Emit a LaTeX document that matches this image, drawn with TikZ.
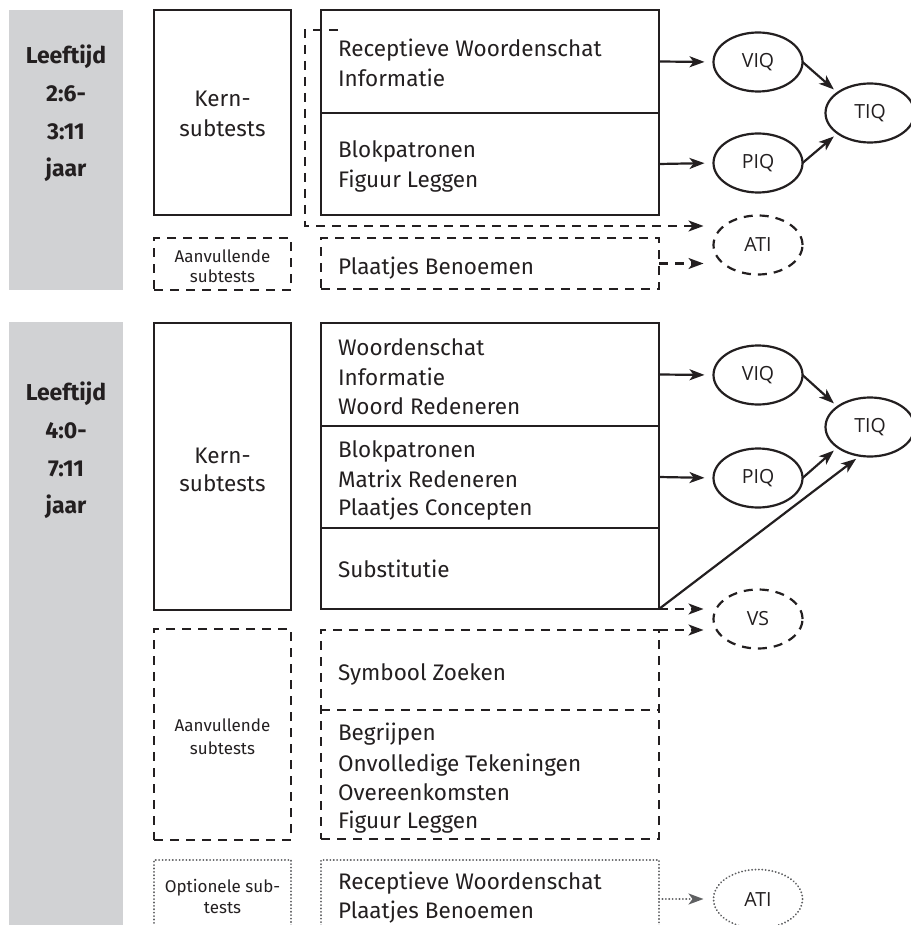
\documentclass[tikz,border=0pt]{standalone}
\usepackage{fontspec}
\setmainfont{Fira Sans}
\newfontfamily\ellfont{Open Sans}
\usetikzlibrary{arrows.meta,calc,shapes.geometric}
\definecolor{ink}{HTML}{231F20}
\definecolor{band}{HTML}{D1D2D4}
\definecolor{dotc}{HTML}{5F6062}
\begin{document}
\begin{tikzpicture}[x=1pt,y=1pt,
  every node/.style={inner sep=0pt, outer sep=0pt, text=ink},
  bandbox/.style={fill=band, anchor=north west, rectangle},
  solidbox/.style={draw=ink, line width=2.5pt, rectangle, anchor=north west},
  dashbox/.style={draw=ink, line width=2.3pt, dash pattern=on 9pt off 7pt, rectangle, anchor=north west},
  dotbox/.style={draw=dotc, line width=2pt, dash pattern=on 0.1pt off 3.3pt, line cap=round, rectangle, anchor=north west},
  agetxt/.style={anchor=base, font=\fontsize{23}{27}\selectfont\bfseries},
  midtxt/.style={anchor=base, font=\fontsize{22.5}{26}\selectfont},
  smalltxt/.style={anchor=base, font=\fontsize{17}{20}\selectfont},
  lefttxt/.style={anchor=base west, font=\fontsize{22.5}{26}\selectfont},
  ell/.style={ellipse, draw=ink, line width=2.2pt, minimum width=89pt, minimum height=59pt, font=\ellfont\fontsize{19.5}{22}\selectfont},
  dashell/.style={ell, dash pattern=on 9pt off 7pt},
  dotell/.style={ell, draw=dotc, line width=2pt, dash pattern=on 0.1pt off 3.3pt, line cap=round},
  tip/.style={-{Stealth[length=15pt, width=11pt, inset=4pt]}},
  arr/.style={tip, draw=ink, line width=2.2pt},
  darr/.style={arr, dash pattern=on 9pt off 7pt},
  dotarr/.style={-{Stealth[length=15pt, width=11pt, inset=4pt, fill=dotc]}, draw=dotc, line width=2pt, dash pattern=on 0.1pt off 3.3pt, line cap=round}
]
\useasboundingbox (0,0) rectangle (910,-925);

% grey age bands
\node[bandbox, minimum width=114pt, minimum height=280pt] (band1) at (9,-10) {};
\node[bandbox, minimum width=114pt, minimum height=620pt] (band2) at (9,-322) {};
\node[agetxt] (g1a) at (66,-64) {Leeftijd};
\node[agetxt] (g1b) at (66,-102) {2:6-};
\node[agetxt] (g1c) at (66,-140) {3:11};
\node[agetxt] (g1d) at (66,-177) {jaar};
\node[agetxt] (g2a) at (66,-400) {Leeftijd};
\node[agetxt] (g2b) at (66,-438) {4:0-};
\node[agetxt] (g2c) at (66,-476) {7:11};
\node[agetxt] (g2d) at (66,-513) {jaar};

% ---------- upper block ----------
\node[solidbox, minimum width=137pt, minimum height=205pt] (kern1) at (154,-10) {};
\node[midtxt] (k1a) at (222.5,-107) {Kern-};
\node[midtxt] (k1b) at (222.5,-137) {subtests};
\node[dashbox, minimum width=137pt, minimum height=52pt] (aan1) at (154,-238) {};
\node[smalltxt] (a1a) at (222.5,-262) {Aanvullende};
\node[smalltxt] (a1b) at (222.5,-282) {subtests};

\node[solidbox, minimum width=338pt, minimum height=103pt] (r1a) at (321,-10) {};
\node[solidbox, minimum width=338pt, minimum height=102pt] (r1b) at (321,-113) {};
\node[lefttxt] (t1) at (338,-57) {Receptieve Woordenschat};
\node[lefttxt] (t2) at (338,-87) {Informatie};
\node[lefttxt] (t3) at (338,-158) {Blokpatronen};
\node[lefttxt] (t4) at (338,-188) {Figuur Leggen};
\node[dashbox, minimum width=338pt, minimum height=51pt] (pb1) at (321,-238) {};
\node[lefttxt] (t5) at (338,-274) {Plaatjes Benoemen};

\node[ell] (viq1) at (758,-62) {VIQ};
\node[ell] (tiq1) at (870,-113) {TIQ};
\node[ell] (piq1) at (758,-163) {PIQ};
\node[dashell] (ati1) at (758,-245) {ATI};

\draw[arr, shorten >=9pt] (r1a.east) -- (viq1.west);
\draw[arr, shorten >=9pt] (r1b.east) -- (piq1.west);
\draw[arr, shorten >=5pt] (viq1.east) -- (tiq1.148);
\draw[arr, shorten >=5pt] (piq1.east) -- (tiq1.212);
\coordinate (lstart) at (338,-30);
\coordinate (lcorner) at (305,-226);
\draw[darr, shorten >=10pt] (lstart) -- (lstart -| lcorner) -- (lcorner) -- (ati1.west |- lcorner);
\draw[darr, shorten >=10pt] (pb1.east) -- (ati1.west |- pb1.east);

% ---------- lower block ----------
\node[solidbox, minimum width=137pt, minimum height=287pt] (kern2) at (154,-323) {};
\node[midtxt] (k2a) at (222.5,-463) {Kern-};
\node[midtxt] (k2b) at (222.5,-491) {subtests};

\node[solidbox, minimum width=338pt, minimum height=103pt] (r2a) at (321,-323) {};
\node[solidbox, minimum width=338pt, minimum height=102pt] (r2b) at (321,-426) {};
\node[solidbox, minimum width=338pt, minimum height=81pt] (r2c) at (321,-528) {};
\node[lefttxt] (u1) at (338,-355) {Woordenschat};
\node[lefttxt] (u2) at (338,-385) {Informatie};
\node[lefttxt] (u3) at (338,-414) {Woord Redeneren};
\node[lefttxt] (u4) at (338,-457) {Blokpatronen};
\node[lefttxt] (u5) at (338,-487) {Matrix Redeneren};
\node[lefttxt] (u6) at (338,-515) {Plaatjes Concepten};
\node[lefttxt] (u7) at (338,-577) {Substitutie};

\node[dashbox, minimum width=137pt, minimum height=211pt] (aan2) at (154,-629) {};
\node[smalltxt] (a2a) at (222.5,-731) {Aanvullende};
\node[smalltxt] (a2b) at (222.5,-754) {subtests};

\node[dashbox, minimum width=338pt, minimum height=209pt] (d2) at (321,-630) {};
\coordinate (divl) at (321,-710);
\draw[ink, line width=2.3pt, dash pattern=on 9pt off 7pt] (divl) -- (divl -| d2.east);
\node[lefttxt] (v1) at (338,-680) {Symbool Zoeken};
\node[lefttxt] (v2) at (338,-740) {Begrijpen};
\node[lefttxt] (v3) at (338,-771) {Onvolledige Tekeningen};
\node[lefttxt] (v4) at (338,-800) {Overeenkomsten};
\node[lefttxt] (v5) at (338,-828) {Figuur Leggen};

\node[dotbox, minimum width=137pt, minimum height=78pt] (op1) at (154,-860) {};
\node[smalltxt] (o1a) at (222.5,-892) {Optionele sub-};
\node[smalltxt] (o1b) at (222.5,-913) {tests};
\node[dotbox, minimum width=338pt, minimum height=78pt] (op2) at (321,-860) {};
\node[lefttxt] (w1) at (338,-889) {Receptieve Woordenschat};
\node[lefttxt] (w2) at (338,-918) {Plaatjes Benoemen};

\node[ell] (viq2) at (758,-375) {VIQ};
\node[ell] (tiq2) at (870,-427) {TIQ};
\node[ell] (piq2) at (758,-478) {PIQ};
\node[dashell] (vs2) at (758,-619) {VS};
\node[dotell] (ati2) at (758,-899) {ATI};

\draw[arr, shorten >=9pt] (r2a.east) -- (viq2.west);
\draw[arr, shorten >=9pt] (r2b.east) -- (piq2.west);
\draw[arr, shorten >=5pt] (viq2.east) -- (tiq2.148);
\draw[arr, shorten >=5pt] (piq2.east) -- (tiq2.212);
\draw[arr, shorten >=5pt] (r2c.south east) -- (tiq2.251);
\draw[darr, shorten >=10pt] (r2c.south east) -- (vs2.west |- r2c.south east);
\draw[darr, shorten >=10pt] (d2.north east) -- (vs2.west |- d2.north east);
\draw[dotarr, shorten >=10pt] (op2.east) -- (ati2.west);
\end{tikzpicture}
\end{document}
